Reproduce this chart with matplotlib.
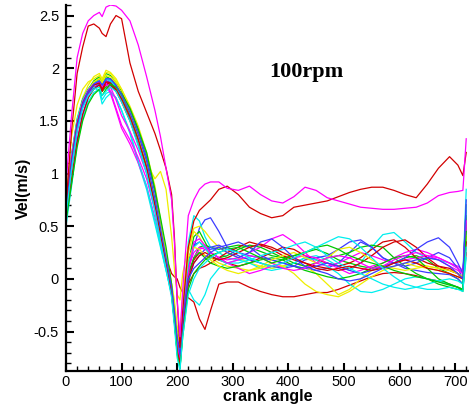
import numpy as np
import matplotlib
matplotlib.use('Agg')
import matplotlib.pyplot as plt
from matplotlib.ticker import MultipleLocator, FuncFormatter

# crank angle grid shared by every run
ang = [0, 10, 20, 30, 40, 50, 60, 65, 72, 80, 90, 100, 115, 130, 145, 160, 170, 180, 190, 195,
       200, 205, 210,
       220, 230, 240, 250, 260, 275, 290, 310, 330, 350, 370, 390, 410, 430, 450, 470, 490,
       510, 530, 550, 570, 590, 610, 630, 650, 670, 690, 705, 714, 720]

# two high runs
hi_mag = [0.9, 1.55, 2.1, 2.33, 2.45, 2.5, 2.53, 2.49, 2.58, 2.6, 2.59, 2.55, 2.45, 2.22, 1.92, 1.6, 1.35, 1.05, 0.75, 0.35, -0.2, -0.55, -0.1,
          0.6, 0.75, 0.85, 0.9, 0.92, 0.92, 0.86, 0.84, 0.88, 0.8, 0.74, 0.72, 0.78, 0.87, 0.84, 0.77, 0.74, 0.71, 0.68, 0.67, 0.66, 0.66, 0.67, 0.68, 0.72, 0.79, 0.82, 0.83, 0.84, 1.33]
hi_red = [0.7, 1.4, 1.95, 2.2, 2.4, 2.42, 2.38, 2.33, 2.3, 2.42, 2.5, 2.47, 2.05, 1.78, 1.58, 1.38, 1.22, 1.05, 0.8, 0.4, -0.2, -0.65, -0.3,
          0.3, 0.55, 0.65, 0.7, 0.75, 0.85, 0.88, 0.8, 0.68, 0.62, 0.58, 0.6, 0.68, 0.7, 0.72, 0.74, 0.78, 0.82, 0.85, 0.87, 0.87, 0.84, 0.8, 0.77, 0.9, 1.05, 1.16, 1.08, 0.98, 1.2]

# the main bundle
r1 = [0.7, 1.1, 1.45, 1.65, 1.76, 1.82, 1.84, 1.78, 1.85, 1.84, 1.78, 1.68, 1.5, 1.28, 1.02, 0.68, 0.42, 0.2, 0.05, 0.02, 0.0, -0.08, -0.13,
      -0.18, -0.22, -0.38, -0.48, -0.3, -0.05, -0.03, -0.03, -0.08, -0.12, -0.15, -0.17, -0.17, -0.15, -0.13, -0.13, -0.1, -0.06, -0.02, 0.02, 0.05, 0.06, 0.05, 0.03, 0.0, -0.02, -0.05, -0.08, -0.1, 0.25]
g2 = [0.6, 1.05, 1.42, 1.65, 1.8, 1.88, 1.92, 1.88, 1.95, 1.93, 1.86, 1.78, 1.62, 1.42, 1.18, 0.84, 0.52, 0.22, -0.1, -0.35, -0.65, -0.85, -0.5,
      -0.05, 0.2, 0.3, 0.32, 0.3, 0.28, 0.3, 0.32, 0.3, 0.26, 0.22, 0.2, 0.22, 0.25, 0.28, 0.24, 0.18, 0.15, 0.12, 0.1, 0.12, 0.15, 0.2, 0.22, 0.18, 0.1, 0.05, 0.0, -0.05, 0.5]
b3 = [0.65, 1.1, 1.45, 1.67, 1.79, 1.86, 1.88, 1.83, 1.9, 1.88, 1.82, 1.72, 1.55, 1.33, 1.08, 0.72, 0.45, 0.18, -0.1, -0.3, -0.55, -0.7, -0.35,
      0.1, 0.3, 0.48, 0.56, 0.58, 0.45, 0.3, 0.25, 0.22, 0.2, 0.18, 0.15, 0.12, 0.1, 0.08, 0.1, 0.15, 0.25, 0.35, 0.3, 0.2, 0.15, 0.1, 0.08, 0.06, 0.05, 0.04, 0.0, -0.05, 0.3]
c4 = [0.5, 0.88, 1.28, 1.52, 1.68, 1.77, 1.8, 1.7, 1.76, 1.78, 1.72, 1.6, 1.38, 1.1, 0.85, 0.52, 0.3, 0.08, -0.15, -0.4, -0.7, -0.82, -0.3,
      0.35, 0.6, 0.55, 0.4, 0.3, 0.25, 0.2, 0.18, 0.2, 0.15, 0.1, 0.12, 0.15, 0.2, 0.22, 0.18, 0.12, 0.08, 0.15, 0.3, 0.42, 0.44, 0.35, 0.25, 0.2, 0.18, 0.15, 0.1, 0.05, 0.85]
y5 = [0.7, 1.15, 1.52, 1.72, 1.84, 1.92, 1.95, 1.9, 1.98, 1.96, 1.9, 1.8, 1.62, 1.38, 1.1, 0.95, 1.02, 0.85, 0.4, 0.1, -0.15, -0.2, 0.05,
      0.3, 0.48, 0.5, 0.45, 0.38, 0.3, 0.25, 0.2, 0.15, 0.12, 0.1, 0.12, 0.15, 0.12, 0.05, -0.05, -0.15, -0.1, 0.0, 0.08, 0.12, 0.15, 0.18, 0.15, 0.12, 0.1, 0.08, 0.05, 0.0, 0.45]
m6 = [0.6, 1.05, 1.4, 1.62, 1.75, 1.82, 1.85, 1.8, 1.84, 1.76, 1.6, 1.43, 1.28, 1.1, 0.88, 0.58, 0.36, 0.14, -0.1, -0.3, -0.6, -0.78, -0.4,
      0.0, 0.2, 0.28, 0.3, 0.25, 0.2, 0.18, 0.2, 0.25, 0.3, 0.38, 0.42, 0.35, 0.25, 0.15, 0.12, 0.15, 0.2, 0.25, 0.22, 0.18, 0.15, 0.18, 0.2, 0.22, 0.2, 0.15, 0.12, 0.08, 0.35]
r7 = [0.72, 1.18, 1.5, 1.7, 1.8, 1.85, 1.87, 1.82, 1.88, 1.86, 1.8, 1.7, 1.52, 1.3, 1.05, 0.7, 0.42, 0.15, -0.12, -0.35, -0.6, -0.65, -0.3,
      0.05, 0.18, 0.25, 0.22, 0.2, 0.18, 0.15, 0.12, 0.15, 0.2, 0.25, 0.3, 0.28, 0.22, 0.18, 0.15, 0.12, 0.15, 0.2, 0.28, 0.35, 0.37, 0.3, 0.2, 0.15, 0.12, 0.1, 0.05, 0.0, 0.6]
g8 = [0.62, 1.08, 1.44, 1.66, 1.78, 1.84, 1.86, 1.78, 1.82, 1.84, 1.8, 1.72, 1.56, 1.35, 1.1, 0.74, 0.46, 0.2, -0.08, -0.28, -0.5, -0.6, -0.2,
      0.15, 0.4, 0.45, 0.35, 0.25, 0.2, 0.22, 0.28, 0.32, 0.3, 0.25, 0.2, 0.15, 0.12, 0.15, 0.2, 0.22, 0.25, 0.3, 0.32, 0.3, 0.2, 0.12, 0.05, 0.0, -0.05, -0.08, -0.1, -0.1, 0.4]
b9 = [0.58, 0.92, 1.32, 1.56, 1.72, 1.81, 1.85, 1.8, 1.87, 1.87, 1.82, 1.73, 1.56, 1.34, 1.08, 0.72, 0.44, 0.16, -0.12, -0.38, -0.65, -0.8, -0.4,
      0.0, 0.15, 0.22, 0.28, 0.3, 0.32, 0.28, 0.22, 0.18, 0.15, 0.12, 0.1, 0.12, 0.18, 0.2, 0.22, 0.28, 0.35, 0.37, 0.3, 0.2, 0.15, 0.12, 0.15, 0.2, 0.25, 0.2, 0.1, 0.0, 0.55]
c10 = [0.68, 1.12, 1.48, 1.68, 1.78, 1.82, 1.78, 1.66, 1.72, 1.76, 1.72, 1.6, 1.4, 1.12, 0.88, 0.55, 0.32, 0.08, -0.15, -0.42, -0.7, -0.85, -0.5,
       -0.1, -0.2, -0.25, -0.15, 0.0, 0.1, 0.15, 0.18, 0.15, 0.1, 0.08, 0.1, 0.15, 0.2, 0.18, 0.12, 0.05, -0.05, -0.12, -0.13, -0.1, -0.05, 0.0, 0.02, 0.0, -0.02, -0.05, -0.08, -0.1, 0.2]
y11 = [0.75, 1.35, 1.65, 1.8, 1.87, 1.9, 1.93, 1.88, 1.96, 1.95, 1.88, 1.8, 1.64, 1.45, 1.2, 0.88, 0.56, 0.25, -0.05, -0.2, -0.45, -0.55, -0.15,
       0.25, 0.45, 0.4, 0.3, 0.2, 0.15, 0.12, 0.1, 0.08, 0.1, 0.15, 0.12, 0.05, -0.05, -0.12, -0.15, -0.17, -0.12, -0.05, 0.02, 0.08, 0.12, 0.15, 0.12, 0.1, 0.08, 0.05, 0.02, 0.0, 0.3]
m12 = [0.65, 1.1, 1.46, 1.66, 1.78, 1.85, 1.88, 1.83, 1.88, 1.82, 1.7, 1.55, 1.4, 1.22, 1.0, 0.68, 0.4, 0.12, -0.15, -0.4, -0.68, -0.75, -0.35,
       0.1, 0.25, 0.3, 0.28, 0.25, 0.2, 0.15, 0.1, 0.05, 0.08, 0.12, 0.15, 0.2, 0.22, 0.2, 0.15, 0.1, 0.05, 0.08, 0.12, 0.15, 0.2, 0.25, 0.28, 0.25, 0.2, 0.15, 0.1, 0.05, 0.5]
r13 = [0.6, 0.95, 1.3, 1.56, 1.72, 1.8, 1.84, 1.78, 1.86, 1.85, 1.8, 1.72, 1.55, 1.33, 1.08, 0.72, 0.44, 0.17, -0.1, -0.32, -0.58, -0.7, -0.38,
       -0.05, 0.05, 0.1, 0.12, 0.15, 0.2, 0.25, 0.3, 0.35, 0.32, 0.28, 0.22, 0.18, 0.15, 0.12, 0.1, 0.08, 0.1, 0.15, 0.22, 0.3, 0.35, 0.37, 0.3, 0.2, 0.12, 0.08, 0.05, 0.0, 0.7]
g14 = [0.7, 1.15, 1.5, 1.7, 1.8, 1.86, 1.9, 1.85, 1.92, 1.9, 1.84, 1.74, 1.56, 1.34, 1.08, 0.72, 0.44, 0.16, -0.12, -0.4, -0.7, -0.82, -0.45,
       0.05, 0.2, 0.25, 0.2, 0.15, 0.12, 0.1, 0.12, 0.15, 0.18, 0.2, 0.18, 0.12, 0.08, 0.05, 0.02, 0.0, 0.02, 0.05, 0.1, 0.15, 0.2, 0.22, 0.2, 0.1, 0.0, -0.05, -0.08, -0.1, 0.6]
b15 = [0.62, 1.06, 1.42, 1.64, 1.76, 1.84, 1.87, 1.82, 1.89, 1.89, 1.83, 1.76, 1.6, 1.4, 1.15, 0.82, 0.5, 0.2, -0.1, -0.35, -0.62, -0.78, -0.35,
       0.15, 0.32, 0.35, 0.3, 0.28, 0.3, 0.32, 0.35, 0.3, 0.22, 0.18, 0.15, 0.12, 0.1, 0.12, 0.15, 0.12, 0.08, 0.05, 0.08, 0.12, 0.15, 0.2, 0.28, 0.35, 0.39, 0.3, 0.15, 0.05, 0.65]
c16 = [0.72, 1.18, 1.52, 1.7, 1.8, 1.86, 1.88, 1.84, 1.9, 1.88, 1.82, 1.72, 1.54, 1.3, 1.02, 0.66, 0.38, 0.12, -0.15, -0.38, -0.62, -0.7, -0.3,
       0.15, 0.3, 0.35, 0.3, 0.22, 0.18, 0.15, 0.15, 0.18, 0.22, 0.25, 0.28, 0.32, 0.35, 0.3, 0.22, 0.15, 0.1, 0.05, 0.0, -0.05, -0.08, -0.1, -0.08, -0.05, -0.02, 0.0, -0.02, -0.05, 0.7]
y17 = [0.65, 1.1, 1.46, 1.67, 1.79, 1.87, 1.9, 1.86, 1.93, 1.92, 1.86, 1.76, 1.58, 1.36, 1.1, 0.76, 0.5, 0.22, -0.05, -0.25, -0.5, -0.62, -0.2,
       0.2, 0.3, 0.28, 0.22, 0.18, 0.12, 0.08, 0.05, 0.08, 0.12, 0.18, 0.22, 0.25, 0.2, 0.15, 0.2, 0.28, 0.3, 0.25, 0.18, 0.12, 0.1, 0.08, 0.1, 0.12, 0.1, 0.08, 0.05, 0.02, 0.4]
m18 = [0.7, 1.15, 1.48, 1.68, 1.79, 1.85, 1.87, 1.82, 1.86, 1.78, 1.62, 1.46, 1.32, 1.15, 0.95, 0.65, 0.38, 0.12, -0.12, -0.35, -0.62, -0.8, -0.42,
       0.05, 0.35, 0.38, 0.32, 0.25, 0.2, 0.15, 0.18, 0.22, 0.2, 0.15, 0.1, 0.08, 0.1, 0.15, 0.2, 0.22, 0.2, 0.15, 0.1, 0.12, 0.18, 0.22, 0.25, 0.22, 0.18, 0.12, 0.08, 0.05, 0.55]
r19 = [0.68, 1.12, 1.47, 1.67, 1.78, 1.84, 1.86, 1.8, 1.87, 1.86, 1.8, 1.71, 1.54, 1.32, 1.06, 0.7, 0.42, 0.14, -0.14, -0.4, -0.68, -0.8, -0.45,
       0.0, 0.15, 0.22, 0.25, 0.22, 0.18, 0.2, 0.25, 0.3, 0.33, 0.3, 0.25, 0.2, 0.15, 0.1, 0.08, 0.1, 0.12, 0.1, 0.08, 0.1, 0.15, 0.18, 0.15, 0.1, 0.08, 0.05, 0.02, 0.0, 0.35]
g20 = [0.55, 0.9, 1.25, 1.5, 1.66, 1.75, 1.8, 1.74, 1.8, 1.85, 1.82, 1.76, 1.62, 1.42, 1.2, 0.85, 0.58, 0.3, -0.05, -0.35, -0.72, -0.85, -0.55,
       -0.1, 0.05, 0.12, 0.18, 0.22, 0.25, 0.28, 0.3, 0.25, 0.2, 0.15, 0.18, 0.22, 0.25, 0.3, 0.32, 0.28, 0.22, 0.18, 0.15, 0.12, 0.08, 0.05, 0.02, 0.0, -0.03, -0.06, -0.08, -0.12, 0.45]
b21 = [0.66, 1.1, 1.45, 1.66, 1.78, 1.85, 1.88, 1.84, 1.9, 1.9, 1.84, 1.75, 1.58, 1.37, 1.12, 0.76, 0.48, 0.2, -0.08, -0.3, -0.55, -0.72, -0.4,
       0.0, 0.1, 0.15, 0.2, 0.25, 0.3, 0.25, 0.2, 0.25, 0.35, 0.38, 0.3, 0.2, 0.12, 0.08, 0.05, 0.0, -0.02, 0.0, 0.05, 0.1, 0.12, 0.15, 0.18, 0.2, 0.18, 0.12, 0.05, 0.0, 0.75]
c22 = [0.6, 1.04, 1.4, 1.62, 1.74, 1.8, 1.82, 1.74, 1.78, 1.82, 1.78, 1.68, 1.5, 1.26, 1.0, 0.64, 0.36, 0.1, -0.18, -0.45, -0.75, -0.87, -0.55,
       -0.15, 0.0, 0.1, 0.15, 0.2, 0.25, 0.28, 0.25, 0.2, 0.15, 0.12, 0.15, 0.2, 0.25, 0.3, 0.35, 0.4, 0.38, 0.3, 0.2, 0.1, 0.02, -0.05, -0.08, -0.1, -0.1, -0.08, -0.1, -0.12, 0.3]

RED = '#d20000'
GRN = '#00c800'
BLU = '#3c3cff'
CYN = '#00eeee'
YEL = '#eeee00'
MAG = '#ff00ff'

runs = [(r1, RED), (g2, GRN), (b3, BLU), (c4, CYN), (y5, YEL), (m6, MAG),
        (r7, RED), (g8, GRN), (b9, BLU), (c10, CYN), (y11, YEL), (m12, MAG),
        (r13, RED), (g14, GRN), (b15, BLU), (c16, CYN), (y17, YEL), (m18, MAG),
        (r19, RED), (g20, GRN), (b21, BLU), (c22, CYN),
        (hi_red, RED), (hi_mag, MAG)]

fig = plt.figure(figsize=(4.69, 4.12), dpi=100)
ax = fig.add_axes([66/469, 41/412, 403/469, 366/412])

for vals, col in runs:
    assert len(vals) == len(ang)
    ax.plot(ang, vals, color=col, lw=0.9)

ax.set_xlim(0, 725)
ax.set_ylim(-0.875, 2.6)
ax.spines['top'].set_visible(False)
ax.spines['right'].set_visible(False)
ax.spines['left'].set_linewidth(1.6)
ax.spines['bottom'].set_linewidth(1.6)

ax.xaxis.set_major_locator(MultipleLocator(100))
ax.xaxis.set_minor_locator(MultipleLocator(20))
ax.yaxis.set_major_locator(MultipleLocator(0.5))
ax.yaxis.set_minor_locator(MultipleLocator(0.1))
ax.yaxis.set_major_formatter(FuncFormatter(lambda v, p: '%g' % v))
ax.tick_params(which='major', direction='in', length=6, width=1.5, labelsize=10.5, pad=3)
ax.tick_params(which='minor', direction='in', length=3.5, width=1)
ax.tick_params(axis='y', which='major', pad=5)
for lb in ax.get_xticklabels() + ax.get_yticklabels():
    lb.set_family('Liberation Sans')

ax.set_xlabel('crank angle', fontsize=11.5, fontweight='bold', family='Liberation Sans', labelpad=0)
ax.set_ylabel('Vel(m/s)', fontsize=11.5, fontweight='bold', family='Liberation Sans', labelpad=2)

ax.text(432, 1.96, '100rpm', fontsize=16, fontweight='bold', family='Liberation Serif',
        ha='center', va='center')

fig.savefig('out.png', dpi=100)
